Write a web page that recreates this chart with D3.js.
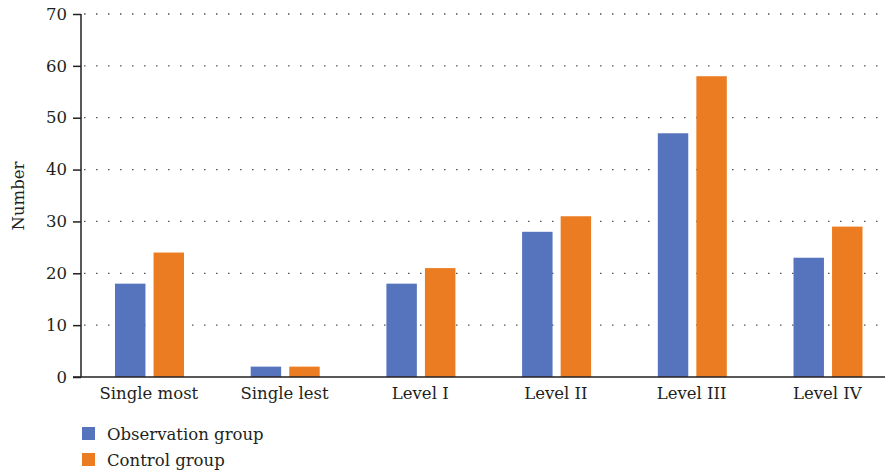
<!DOCTYPE html>
<html><head><meta charset="utf-8">
<script src="https://cdn.jsdelivr.net/npm/d3@7"></script>
<style>body{margin:0;background:#fff}svg{display:block}text{font-family:"DejaVu Serif",serif;fill:#231f20}</style>
</head><body><svg id="c" width="885" height="472"></svg>
<script>
const categories = ["Single most","Single lest","Level I","Level II","Level III","Level IV"];
const seriesNames = ["Observation group","Control group"];
const observation = [18,2,18,28,47,23];
const control = [24,2,21,31,58,29];
const yTicks = [0,10,20,30,40,50,60,70];
const colors = ["#5574bd","#ec7c22"];

(function(){
const svg = d3.select("#c");
const mLeft = 81, mTop = 14, mBottom = 377, mRight = 880;
const y = d3.scaleLinear().domain([0,70]).range([mBottom, mTop]);
const x0 = d3.scaleBand().domain(categories).range([mLeft, mLeft + 6*135.7]).padding(0);
const x1 = d3.scaleBand().domain(seriesNames).range([34, 103]).paddingInner(0.21).paddingOuter(0);

// grid
svg.append("g").selectAll("line").data(yTicks.filter(d=>d>0)).join("line")
  .attr("x1", mLeft+3).attr("x2", mRight).attr("y1", d=>y(d)).attr("y2", d=>y(d))
  .attr("stroke","#555").attr("stroke-width",1.3).attr("stroke-dasharray","1.5,10.5");

// bars
const data = categories.map((c,i)=>({c, vals:[observation[i], control[i]]}));
const g = svg.append("g").selectAll("g").data(data).join("g")
  .attr("transform", d=>`translate(${x0(d.c)},0)`);
g.selectAll("rect").data(d=>d.vals.map((v,j)=>({s:seriesNames[j], v, j}))).join("rect")
  .attr("x", d=>x1(d.s)).attr("width", x1.bandwidth())
  .attr("y", d=>y(d.v)).attr("height", d=>mBottom - y(d.v))
  .attr("fill", d=>colors[d.j]);

// y axis
const yAxis = svg.append("g").attr("transform",`translate(${mLeft},0)`)
  .call(d3.axisLeft(y).tickValues(yTicks).tickSize(8).tickPadding(6));
yAxis.select(".domain").attr("stroke","#231f20").attr("stroke-width",1.5).attr("d",`M0,${mTop}V${mBottom}`);
yAxis.selectAll(".tick line").attr("stroke","#231f20").attr("stroke-width",1.5);
yAxis.selectAll("text").style("font-size","16.5px").attr("fill","#231f20").attr("font-family","DejaVu Serif");

// x axis
const xAxis = svg.append("g").attr("transform",`translate(0,${mBottom})`)
  .call(d3.axisBottom(x0).tickSize(0).tickPadding(10));
xAxis.select(".domain").attr("stroke","#231f20").attr("stroke-width",1.5).attr("d",`M73,0H885`);
xAxis.selectAll("text").style("font-size","16.5px").attr("fill","#231f20").attr("font-family","DejaVu Serif");

// y label
svg.append("text").attr("transform","translate(24,196) rotate(-90)").attr("text-anchor","middle")
  .style("font-size","16.5px").text("Number");

// legend
const lg = svg.append("g").selectAll("g").data(seriesNames).join("g")
  .attr("transform",(d,i)=>`translate(82,${427 + i*26})`);
lg.append("rect").attr("width",13).attr("height",13).attr("fill",(d,i)=>colors[i]);
lg.append("text").attr("x",25).attr("y",7).attr("dy","0.35em").style("font-size","16.5px").text(d=>d);
})();
</script></body></html>
